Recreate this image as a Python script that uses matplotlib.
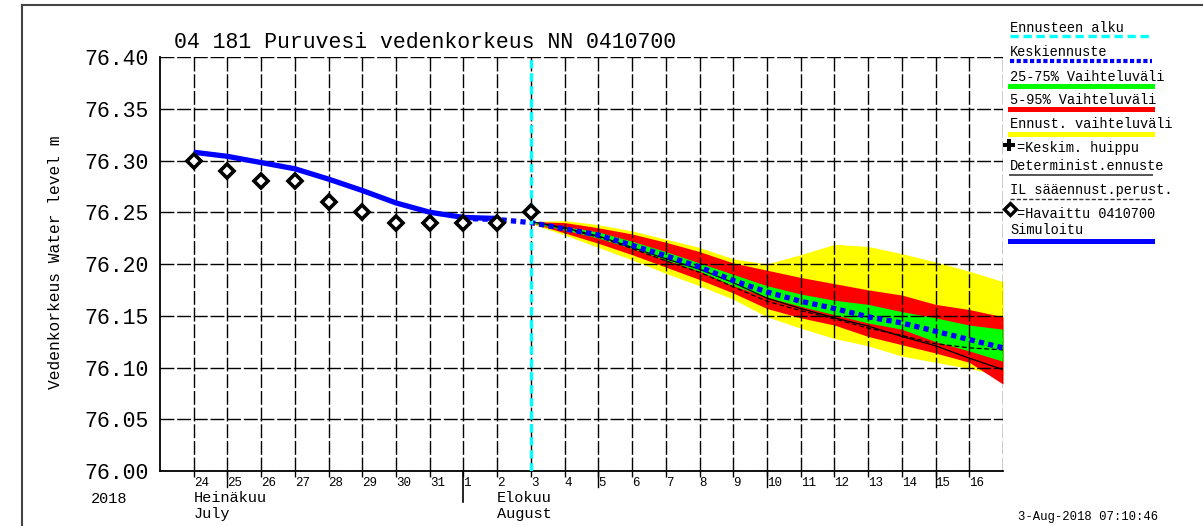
import matplotlib
matplotlib.use('Agg')
import matplotlib.pyplot as plt
import matplotlib.transforms as mtransforms
from matplotlib.lines import Line2D
import numpy as np

plt.rcParams['font.family'] = ['Liberation Mono', 'DejaVu Sans Mono']

W, H = 1203, 526

# x axis = days counted from 23 July 2018
day_labels = ['24', '25', '26', '27', '28', '29', '30', '31',
              '1', '2', '3', '4', '5', '6', '7', '8', '9', '10',
              '11', '12', '13', '14', '15', '16']
day_pos = list(range(1, 25))
long_ticks = [2, 13, 18, 23]
month_break = 9
forecast_start = 11

# observed (Havaittu 0410700), 24 Jul .. 3 Aug
obs_x = list(range(1, 12))
obs = [76.30, 76.29, 76.28, 76.28, 76.26, 76.25, 76.24, 76.24, 76.24, 76.24, 76.25]

# simulated, 24 Jul .. 2 Aug
sim_x = list(range(1, 11))
sim = [76.308, 76.304, 76.298, 76.292, 76.282, 76.271, 76.259, 76.250, 76.245, 76.244]

# median forecast (Keskiennuste), 1 Aug .. 17 Aug
med_x = list(range(9, 26))
median = [76.244, 76.243, 76.240, 76.234, 76.228, 76.218, 76.208, 76.197, 76.184,
          76.173, 76.164, 76.157, 76.149, 76.143, 76.135, 76.127, 76.119]

# forecast bands, 3 Aug .. 17 Aug
fc_x = list(range(11, 26))
ens_max = [76.241, 76.242, 76.238, 76.232, 76.224, 76.216, 76.205, 76.200, 76.209,
           76.219, 76.217, 76.210, 76.202, 76.193, 76.183]
q95 = [76.241, 76.240, 76.235, 76.229, 76.221, 76.212, 76.201, 76.194, 76.187,
       76.181, 76.175, 76.170, 76.161, 76.156, 76.149]
q75 = [76.241, 76.236, 76.231, 76.222, 76.212, 76.201, 76.190, 76.179, 76.171,
       76.165, 76.161, 76.154, 76.148, 76.141, 76.137]
q25 = [76.240, 76.233, 76.225, 76.215, 76.204, 76.193, 76.179, 76.168, 76.159,
       76.151, 76.143, 76.137, 76.125, 76.116, 76.106]
q5 = [76.240, 76.230, 76.220, 76.209, 76.197, 76.185, 76.172, 76.157, 76.148,
      76.141, 76.130, 76.122, 76.114, 76.105, 76.084]
ens_min = [76.239, 76.228, 76.216, 76.204, 76.191, 76.179, 76.166, 76.149, 76.138,
           76.128, 76.121, 76.111, 76.105, 76.099, 76.092]
determ = [76.241, 76.235, 76.227, 76.216, 76.205, 76.195, 76.182, 76.167, 76.157,
          76.148, 76.140, 76.130, 76.121, 76.109, 76.098]
il_fc = [76.241, 76.234, 76.226, 76.215, 76.203, 76.192, 76.178, 76.164, 76.155,
         76.147, 76.138, 76.131, 76.123, 76.119, 76.117]

yticks = np.round(np.arange(76.00, 76.401, 0.05), 2)

YELLOW, RED, GREEN, BLUE, CYAN = '#ffff00', '#ff0000', '#00ff00', '#0000ff', '#00ffff'


def fx(px):
    return px / W


def fy(py):
    return 1 - py / H


fig = plt.figure(figsize=(W / 100, H / 100), dpi=100)
ax = fig.add_axes([fx(160), fy(471), fx(843), 414 / H])
ax.set_xlim(0, 25)
ax.set_ylim(76.00, 76.40)

ax.fill_between(fc_x, ens_min, ens_max, color=YELLOW, lw=0, zorder=1)
ax.fill_between(fc_x, q5, q95, color=RED, lw=0, zorder=1.1)
ax.fill_between(fc_x, q25, q75, color=GREEN, lw=0, zorder=1.2)

grid_ls = (0, (10, 2))
ax.set_axisbelow(False)
ax.grid(True, color='black', linestyle=grid_ls, lw=1.0, zorder=2.5)
ax.axvline(25, color='black', linestyle=grid_ls, lw=1.0, zorder=2.5)
ax.axvline(forecast_start, color=CYAN, lw=2.4, linestyle=(0, (2.5, 1.4)), zorder=4)

ax.plot(fc_x, determ, color='black', lw=0.9, zorder=3)
ax.plot(fc_x, il_fc, color='black', lw=0.9, linestyle=(0, (4, 2)), zorder=3)
ax.plot(sim_x, sim, color=BLUE, lw=3.8, zorder=3.2, solid_capstyle='butt')
ax.plot(med_x, median, color=BLUE, lw=3.8, linestyle=(0, (1, 0.8)), zorder=3.3)
ax.plot(obs_x, obs, 'D', mfc='white', mec='black', ms=7, mew=2.6, zorder=5)

for s in ['top', 'right']:
    ax.spines[s].set_visible(False)
for s in ['left', 'bottom']:
    ax.spines[s].set_linewidth(1.3)

ax.set_yticks(yticks)
ax.set_yticklabels(['%.2f' % v for v in yticks], fontsize=15.5)
ax.tick_params(axis='y', length=0, pad=8)
ax.set_xticks(day_pos)
ax.set_xticklabels(day_labels, fontsize=9, ha='left')
ax.tick_params(axis='x', direction='out', length=4, width=1, pad=0.5)

trans = mtransforms.blended_transform_factory(ax.transData, ax.transAxes)
for d in long_ticks:
    ax.plot([d, d], [0, -16 / 414], color='black', lw=1, transform=trans, clip_on=False)
ax.plot([month_break, month_break], [0, -31 / 414], color='black', lw=1.2,
        transform=trans, clip_on=False)

fig.text(fx(174), fy(43), '04 181 Puruvesi vedenkorkeus NN 0410700',
         fontsize=15.5, va='center', ha='left')
fig.text(fx(56), fy(262), 'Vedenkorkeus Water level m', rotation=90,
         fontsize=11.7, va='center', ha='center')

fig.text(fx(91), fy(499), '2018', fontsize=11, va='center')
fig.text(fx(194), fy(498), 'Heinäkuu', fontsize=11, va='center')
fig.text(fx(194), fy(514), 'July', fontsize=11, va='center')
fig.text(fx(497), fy(498), 'Elokuu', fontsize=11, va='center')
fig.text(fx(497), fy(514), 'August', fontsize=11, va='center')
fig.text(fx(1018), fy(517), '3-Aug-2018 07:10:46', fontsize=8.8, va='center')

# legend on the right
lx0, lx1 = 1010, 1152
legend_items = [
    ('Ennusteen alku', 28, 36, dict(color=CYAN, lw=2.4, linestyle=(0, (2.5, 1.4)))),
    ('Keskiennuste', 52, 61, dict(color=BLUE, lw=3.0, linestyle=(0, (1, 0.6)))),
    ('25-75% Vaihteluväli', 77, 86, dict(color=GREEN, lw=3.6)),
    ('5-95% Vaihteluväli', 100, 109, dict(color=RED, lw=3.6)),
    ('Ennust. vaihteluväli', 124, 134, dict(color=YELLOW, lw=3.6)),
    ('Determinist.ennuste', 166, 175, dict(color='#555555', lw=1.4)),
    ('IL sääennust.perust.', 190, 199, dict(color='#333333', lw=1.0, linestyle=(0, (3, 1.5)))),
    ('Simuloitu', 230, 241, dict(color=BLUE, lw=3.6)),
]
for label, ty, ly, style in legend_items:
    fig.text(fx(lx0), fy(ty), label, fontsize=9.8, va='center', ha='left')
    fig.add_artist(Line2D([fx(lx0), fx(lx1)], [fy(ly), fy(ly)], **style))

fig.add_artist(Line2D([fx(1009)], [fy(145)], marker='P', color='black', ms=8, mew=0))
fig.text(fx(1017), fy(148), '=Keskim. huippu', fontsize=9.8, va='center', ha='left')
fig.add_artist(Line2D([fx(1010)], [fy(209)], marker='D', mfc='white', mec='black',
                      ms=6, mew=2.4, linestyle='none'))
fig.text(fx(1017), fy(214), '=Havaittu 0410700', fontsize=9.8, va='center', ha='left')

# outer frame
fig.add_artist(Line2D([fx(22), fx(22)], [0, fy(5)], color='#444444', lw=1.5))
fig.add_artist(Line2D([fx(22), 1], [fy(5), fy(5)], color='#444444', lw=1.5))

fig.savefig('out.png', dpi=100)
